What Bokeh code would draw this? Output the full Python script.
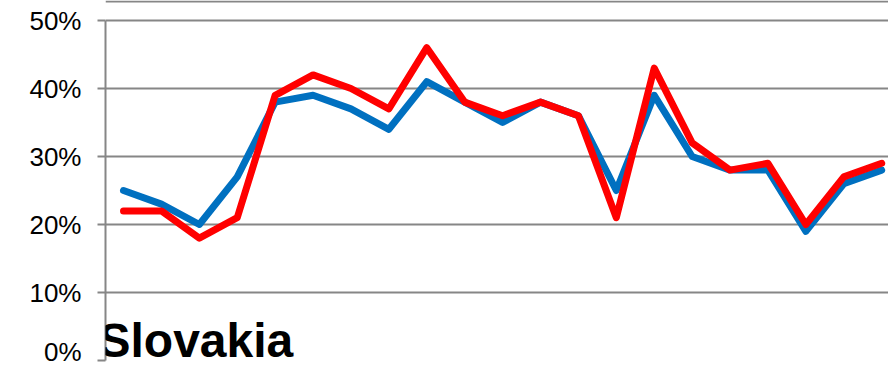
from bokeh.plotting import figure
from bokeh.models import FixedTicker, PrintfTickFormatter, Label, Range1d
from bokeh.embed import file_html
from bokeh.resources import INLINE

idx = list(range(21))
blue_vals = [25, 23, 20, 27, 38, 39, 37, 34, 41, 38, 35, 38, 36, 25, 39, 30, 28, 28, 19, 26, 28]
red_vals = [22, 22, 18, 21, 39, 42, 40, 37, 46, 38, 36, 38, 36, 21, 43, 32, 28, 29, 20, 27, 29]
y_ticks = [0, 10, 20, 30, 40, 50]
title_text = "Slovakia"

# frame spans the full height; the top 20px show the baseline of the chart above
y_top = 50 + 20 / 6.8
upper_zero = y_top - 1 / 6.8

p = figure(width=888, height=366, output_backend="svg", toolbar_location=None,
           x_range=Range1d(-0.475, 20.18), y_range=Range1d(0, y_top),
           min_border_left=105, min_border_right=0, min_border_top=0, min_border_bottom=6)
p.outline_line_color = None
p.background_fill_color = "white"
p.border_fill_color = "white"

p.xaxis.visible = False
p.xgrid.visible = False

p.yaxis.ticker = FixedTicker(ticks=y_ticks)
p.yaxis.bounds = (0, 50)
p.yaxis.formatter = PrintfTickFormatter(format="%d%%")
p.yaxis.major_label_text_font = "Liberation Sans"
p.yaxis.major_label_text_font_size = "26px"
p.yaxis.major_label_text_color = "black"
p.yaxis.major_label_standoff = 16
p.yaxis.major_tick_out = 8
p.yaxis.major_tick_in = 0
p.yaxis.minor_tick_out = 0
p.yaxis.minor_tick_in = 0
p.yaxis.axis_line_color = "#868686"
p.yaxis.axis_line_width = 2
p.yaxis.major_tick_line_color = "#868686"
p.yaxis.major_tick_line_width = 2

p.ygrid.ticker = FixedTicker(ticks=y_ticks + [upper_zero])
p.ygrid.grid_line_color = "#868686"
p.ygrid.grid_line_width = 2

p.line(idx, blue_vals, line_color="#0070C0", line_width=7, line_join="round", line_cap="round")
p.line(idx, red_vals, line_color="#FF0000", line_width=7, line_join="round", line_cap="round")

p.add_layout(Label(x=-0.66, y=2.94, text=title_text, text_font="Liberation Sans",
                   text_font_style="bold", text_font_size="48px", text_color="black",
                   text_baseline="alphabetic", level="overlay"))

open("out.html", "w").write(file_html(p, INLINE))
